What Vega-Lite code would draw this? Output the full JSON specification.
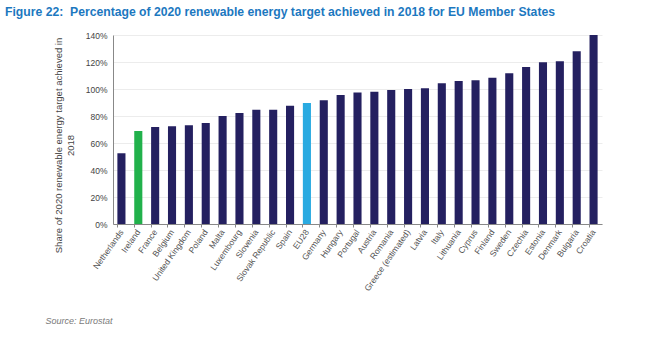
{
  "$schema": "https://vega.github.io/schema/vega-lite/v6.json",
  "autosize": "none",
  "padding": {"left": 113, "top": 35, "right": 48, "bottom": 120},
  "width": 489,
  "height": 189,
  "background": "white",
  "title": {
    "text": "Figure 22:\u00a0 Percentage of 2020 renewable energy target achieved in 2018 for EU Member States",
    "anchor": "start",
    "frame": "group",
    "dx": -108,
    "dy": -13,
    "offset": 0,
    "font": "Liberation Sans",
    "fontSize": 12.2,
    "fontWeight": "bold",
    "color": "#1c78bf"
  },
  "data": {
    "values": [
      {"country": "Netherlands", "value": 52.4, "group": "member"},
      {"country": "Ireland", "value": 68.9, "group": "ireland"},
      {"country": "France", "value": 71.9, "group": "member"},
      {"country": "Belgium", "value": 72.4, "group": "member"},
      {"country": "United Kingdom", "value": 73.1, "group": "member"},
      {"country": "Poland", "value": 74.8, "group": "member"},
      {"country": "Malta", "value": 80.0, "group": "member"},
      {"country": "Luxembourg", "value": 82.2, "group": "member"},
      {"country": "Slovenia", "value": 84.7, "group": "member"},
      {"country": "Slovak Republic", "value": 84.7, "group": "member"},
      {"country": "Spain", "value": 87.6, "group": "member"},
      {"country": "EU28", "value": 89.6, "group": "eu"},
      {"country": "Germany", "value": 91.6, "group": "member"},
      {"country": "Hungary", "value": 95.6, "group": "member"},
      {"country": "Portugal", "value": 97.5, "group": "member"},
      {"country": "Austria", "value": 98.0, "group": "member"},
      {"country": "Romania", "value": 99.3, "group": "member"},
      {"country": "Greece (estimated)", "value": 100.0, "group": "member"},
      {"country": "Latvia", "value": 100.5, "group": "member"},
      {"country": "Italy", "value": 104.2, "group": "member"},
      {"country": "Lithuania", "value": 105.9, "group": "member"},
      {"country": "Cyprus", "value": 106.4, "group": "member"},
      {"country": "Finland", "value": 108.4, "group": "member"},
      {"country": "Sweden", "value": 111.6, "group": "member"},
      {"country": "Czechia", "value": 116.3, "group": "member"},
      {"country": "Estonia", "value": 119.8, "group": "member"},
      {"country": "Denmark", "value": 120.5, "group": "member"},
      {"country": "Bulgaria", "value": 127.9, "group": "member"},
      {"country": "Croatia", "value": 140.0, "group": "member"}
    ]
  },
  "mark": {"type": "bar"},
  "encoding": {
    "x": {
      "field": "country",
      "type": "nominal",
      "sort": null,
      "scale": {"paddingInner": 0.52, "paddingOuter": 0.26},
      "axis": {
        "title": "Source: Eurostat",
        "titleFont": "Liberation Sans",
        "titleFontStyle": "italic",
        "titleFontWeight": "normal",
        "titleFontSize": 9,
        "titleColor": "#7a7a7a",
        "titleAnchor": "start",
        "titleAlign": "left",
        "titleBaseline": "alphabetic",
        "titleX": -68,
        "titleY": 99,
        "labelAngle": -55,
        "labelAlign": "right",
        "labelBaseline": "middle",
        "labelFont": "Liberation Sans",
        "labelFontSize": 8.5,
        "labelColor": "#555555",
        "labelPadding": 3,
        "bandPosition": 0,
        "ticks": true,
        "tickSize": 3,
        "tickColor": "#888888",
        "domainColor": "#888888",
        "grid": false
      }
    },
    "y": {
      "field": "value",
      "type": "quantitative",
      "scale": {"domain": [0, 140], "nice": false},
      "axis": {
        "title": ["Share of 2020 renewable energy target achieved in", "2018"],
        "titleFont": "Liberation Sans",
        "titleFontWeight": "normal",
        "titleFontSize": 9.5,
        "titleColor": "#444444",
        "titlePadding": 10,
        "titleY": 110,
        "values": [0, 20, 40, 60, 80, 100, 120, 140],
        "labelExpr": "datum.value + '%'",
        "labelFont": "Liberation Sans",
        "labelFontSize": 8.5,
        "labelColor": "#444444",
        "labelPadding": 6,
        "ticks": false,
        "domain": true,
        "domainColor": "#888888",
        "grid": true,
        "gridColor": "#ececec"
      }
    },
    "color": {
      "field": "group",
      "type": "nominal",
      "scale": {"domain": ["member", "ireland", "eu"], "range": ["#242060", "#21b14b", "#29aae1"]},
      "legend": null
    }
  },
  "config": {"view": {"stroke": null}}
}
